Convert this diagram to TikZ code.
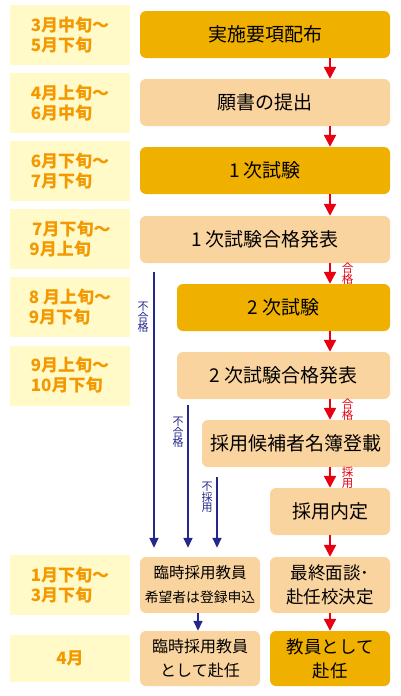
\documentclass[tikz,border=0pt]{standalone}
\usepackage{fontspec}
\setmainfont{Noto Sans CJK JP}
\usetikzlibrary{arrows.meta}
\definecolor{darkbox}{RGB}{240,176,0}
\definecolor{lightbox}{RGB}{250,212,158}
\definecolor{datebg}{RGB}{255,250,200}
\definecolor{dateor}{RGB}{243,152,0}
\definecolor{flowred}{RGB}{230,0,18}
\definecolor{flowblue}{RGB}{36,40,140}
\begin{document}
\begin{tikzpicture}[x=1pt,y=-1pt,
  datebox/.style={fill=datebg, minimum width=120pt, minimum height=60pt, inner sep=0pt,
    text=dateor, font=\fontsize{17}{20}\selectfont\bfseries, align=left},
  stepbox/.style={rounded corners=6pt, minimum height=47pt, inner sep=0pt,
    font=\fontsize{19}{24}\selectfont, align=center},
  darkb/.style={stepbox, fill=darkbox},
  lightb/.style={stepbox, fill=lightbox},
  redarrow/.style={draw=flowred, line width=2.3pt, -{Triangle[width=12pt,length=12pt]}},
  bluearrow/.style={draw=flowblue, line width=1.6pt, -{Triangle[width=9pt,length=10pt]}},
  redlab/.style={text=flowred, font=\fontsize{11.5}{11}\selectfont, align=center, inner sep=0pt},
  bluelab/.style={text=flowblue, font=\fontsize{11}{10.5}\selectfont, align=center, inner sep=0pt},
]
\useasboundingbox (0,0) rectangle (400,696);
\fill[white] (0,0) rectangle (400,696);

% date boxes
\node[datebox] (d1) at (70,35) {3月中旬～\\5月下旬};
\node[datebox] (d2) at (70,103) {4月上旬～\\6月中旬};
\node[datebox] (d3) at (70,171) {6月下旬～\\7月下旬};
\node[datebox] (d4) at (70,239) {\,7月下旬～\\9月上旬};
\node[datebox] (d5) at (70,307) {8 月上旬～\\9月下旬};
\node[datebox] (d6) at (70,375.5) {9月上旬～\\10月下旬};
\node[datebox] (d7) at (70,585) {1月下旬～\\3月下旬};
\node[datebox, minimum height=47pt] (d8) at (70,658.5) {4月};

% flow boxes
\node[darkb, minimum width=250pt] (b1) at (265,34.5) {実施要項配布};
\node[lightb, minimum width=250pt] (b2) at (265,102.5) {願書の提出};
\node[darkb, minimum width=250pt] (b3) at (265,170.5) {1 次試験};
\node[lightb, minimum width=250pt] (b4) at (265,239.5) {1 次試験合格発表};
\node[darkb, minimum width=213pt] (b5) at (283.5,307.5) {2 次試験};
\node[lightb, minimum width=213pt] (b6) at (283.5,375.5) {2 次試験合格発表};
\node[lightb, minimum width=188pt] (b7) at (296,443.5) {採用候補者名簿登載};
\node[lightb, minimum width=120pt] (b8) at (330,511.5) {採用内定};
\node[lightb, minimum width=120pt, minimum height=56pt, font=\fontsize{17.5}{24}\selectfont] (b9) at (330,585) {最終面談･\\赴任校決定};
\node[darkb, minimum width=120pt, minimum height=55pt, font=\fontsize{17.5}{24}\selectfont] (b10) at (330,658.5) {教員として\\赴任};
\node[lightb, minimum width=120pt, minimum height=56pt, font=\fontsize{15.5}{24}\selectfont] (b11) at (200,585) {臨時採用教員\\{\fontsize{13.8}{24}\selectfont 希望者は登録申込}};
\node[lightb, minimum width=120pt, minimum height=55pt, font=\fontsize{16}{24}\selectfont] (b12) at (200,658.5) {臨時採用教員\\として赴任};

% red arrows
\coordinate (rx) at (330,0);
\draw[redarrow] (b1.south -| rx) -- (b2.north -| rx);
\draw[redarrow] (b2.south -| rx) -- (b3.north -| rx);
\draw[redarrow] (b3.south -| rx) -- (b4.north -| rx);
\draw[redarrow] (b4.south -| rx) -- (b5.north -| rx);
\draw[redarrow] (b5.south -| rx) -- (b6.north -| rx);
\draw[redarrow] (b6.south -| rx) -- (b7.north -| rx);
\draw[redarrow] (b7.south -| rx) -- (b8.north -| rx);
\draw[redarrow] (b8.south -| rx) -- (b9.north -| rx);
\draw[redarrow] (b9.south -| rx) -- (b10.north -| rx);
\node[redlab] (r1) at (347.5,273.5) {合\\格};
\node[redlab] (r2) at (347.5,410) {合\\格};
\node[redlab] (r3) at (347.5,478) {採\\用};

% blue arrows
\coordinate (s1) at (154,272);
\coordinate (s2) at (188,405);
\coordinate (s3) at (217,477);
\draw[bluearrow, shorten >=9pt] (s1) -- (s1 |- b11.north);
\draw[bluearrow, shorten >=9pt] (s2) -- (s2 |- b11.north);
\draw[bluearrow, shorten >=9pt] (s3) -- (s3 |- b11.north);
\coordinate (bx) at (198,0);
\draw[bluearrow] (b11.south -| bx) -- (b12.north -| bx);
\node[bluelab] (l1) at (143,317.5) {不\\合\\格};
\node[bluelab] (l2) at (178,432.5) {不\\合\\格};
\node[bluelab] (l3) at (207,497.5) {不\\採\\用};
\end{tikzpicture}
\end{document}
